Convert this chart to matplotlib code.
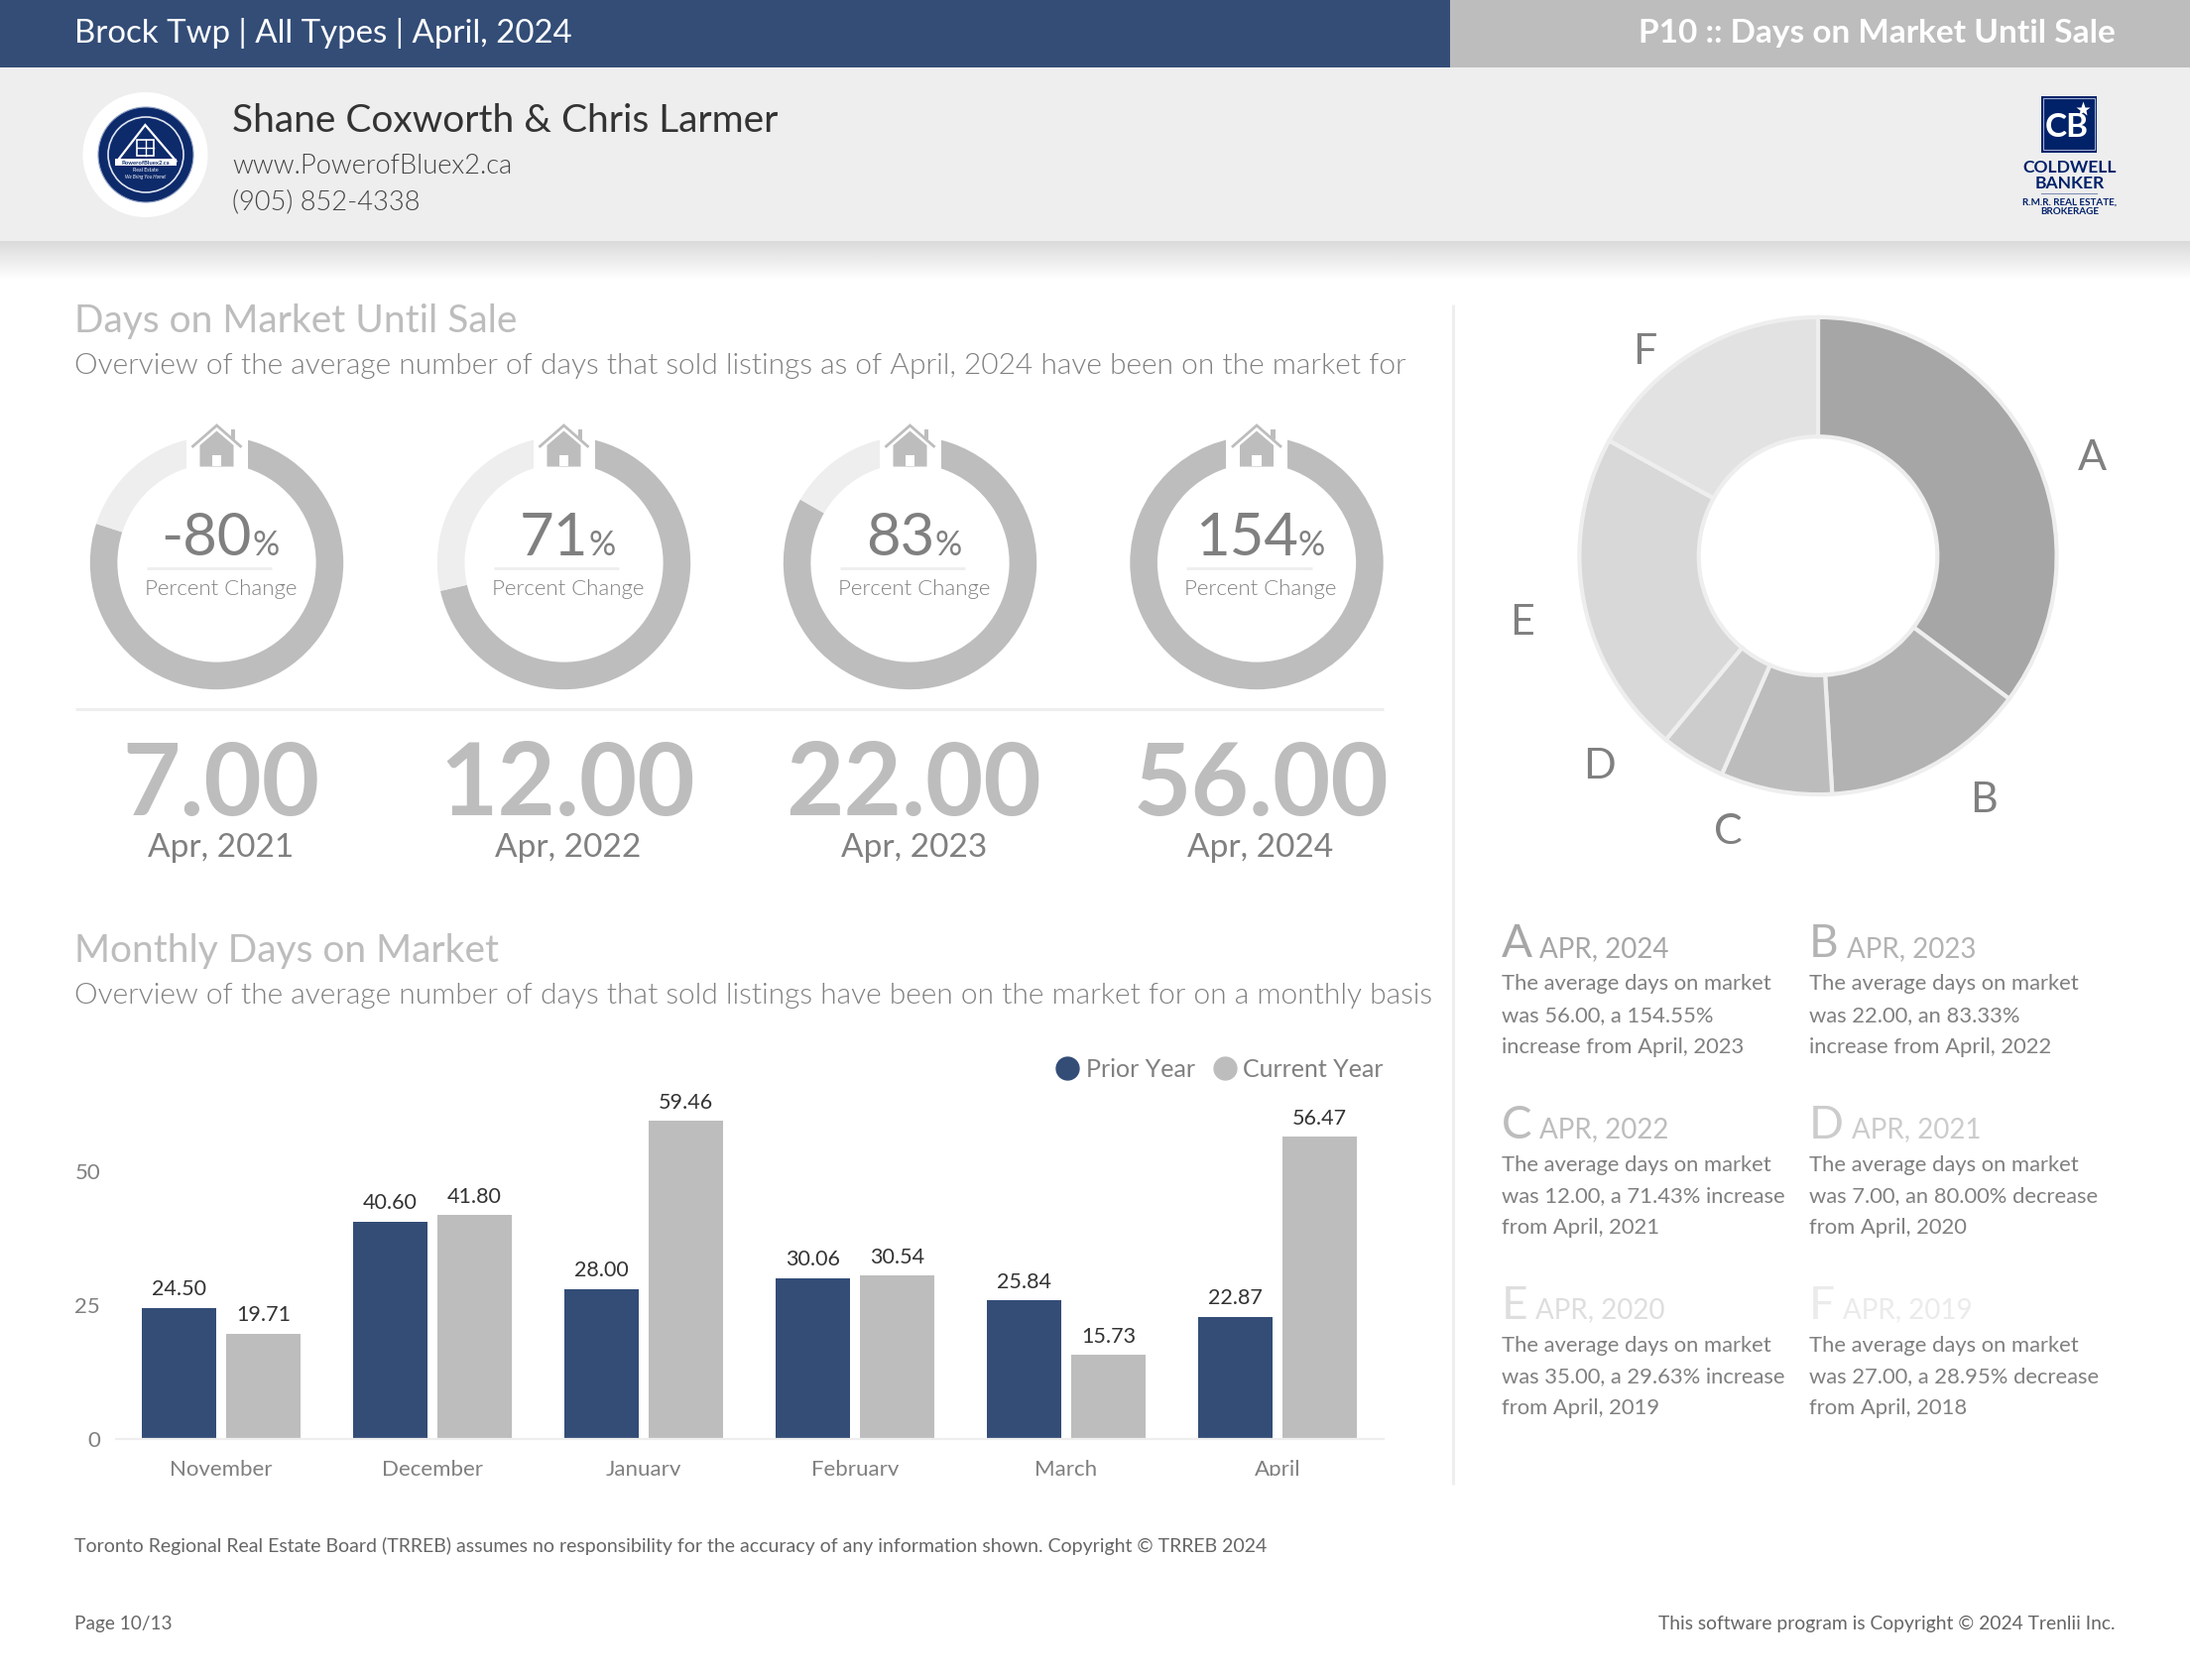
import numpy as np
import matplotlib
matplotlib.use("Agg")
import matplotlib.pyplot as plt
from matplotlib.patches import Rectangle, Circle, Polygon
from matplotlib.lines import Line2D
from matplotlib.transforms import Bbox

plt.rcParams['font.family'] = ['Lato', 'DejaVu Sans']

# ---- data ----
header_left = "Brock Twp | All Types | April, 2024"
header_right = "P10 :: Days on Market Until Sale"
gauge_labels = ["-80", "71", "83", "154"]
gauge_pct = [80.00, 71.43, 83.33, 154.55]
year_values = ["7.00", "12.00", "22.00", "56.00"]
year_labels = ["Apr, 2021", "Apr, 2022", "Apr, 2023", "Apr, 2024"]
months = ["November", "December", "January", "February", "March", "April"]
prior_year = [24.50, 40.60, 28.00, 30.06, 25.84, 22.87]
current_year = [19.71, 41.80, 59.46, 30.54, 15.73, 56.47]
pie_letters = ["A", "B", "C", "D", "E", "F"]
pie_values = [56.00, 22.00, 12.00, 7.00, 35.00, 27.00]
pie_colors = ["#a6a6a6", "#b2b2b2", "#bcbcbc", "#cccccc", "#d8d8d8", "#e2e2e2"]
letter_colors = ["#a6a6a6", "#b3b3b3", "#bdbdbd", "#cccccc", "#dedede", "#ebebeb"]
note_years = ["APR, 2024", "APR, 2023", "APR, 2022", "APR, 2021", "APR, 2020", "APR, 2019"]
note_lines = [
    ["The average days on market", "was 56.00, a 154.55%", "increase from April, 2023"],
    ["The average days on market", "was 22.00, an 83.33%", "increase from April, 2022"],
    ["The average days on market", "was 12.00, a 71.43% increase", "from April, 2021"],
    ["The average days on market", "was 7.00, an 80.00% decrease", "from April, 2020"],
    ["The average days on market", "was 35.00, a 29.63% increase", "from April, 2019"],
    ["The average days on market", "was 27.00, a 28.95% decrease", "from April, 2018"],
]

NAVY = "#334d77"
GREY = "#bdbdbd"
LIGHT = "#eeeeee"
TXT = "#808080"
W, H = 2208, 1694
LW = 300

fig = plt.figure(figsize=(W / 100, H / 100), dpi=100, facecolor="white")
renderer = fig.canvas.get_renderer()


def axes_px(x0, y0, x1, y1, **kw):
    return fig.add_axes([x0 / W, 1 - y1 / H, (x1 - x0) / W, (y1 - y0) / H], **kw)


# background layer
bg = axes_px(0, 0, W, H, zorder=0)
bg.set_xlim(0, W)
bg.set_ylim(H, 0)
bg.axis("off")
bg.add_patch(Rectangle((0, 0), 1462, 68.5, fc=NAVY, ec="none"))
bg.add_patch(Rectangle((1462, 0), W - 1462, 68.5, fc=GREY, ec="none"))
bg.add_patch(Rectangle((0, 68.5), W, 174.5, fc=LIGHT, ec="none"))
grad = np.linspace(0.82, 1.0, 40).reshape(-1, 1) ** 0.8
bg.imshow(grad, extent=(0, W, 282, 243), cmap="gray", vmin=0, vmax=1, aspect="auto", zorder=1)
bg.set_xlim(0, W)
bg.set_ylim(H, 0)

# gauges
gauge_x = [218.5, 568.5, 917.5, 1267]
gauge_y = 567.5
R = 127.7
for gx, p in zip(gauge_x, gauge_pct):
    a = axes_px(gx - R, gauge_y - R, gx + R, gauge_y + R, zorder=1)
    frac = min(p, 100.0)
    a.pie([frac, 100.0 - frac], colors=[GREY, LIGHT], startangle=90, counterclock=False,
          radius=1.0, wedgeprops=dict(width=0.216, linewidth=0))
    a.set_xlim(-1, 1)
    a.set_ylim(-1, 1)

# donut
PR = 241
pcx, pcy = 1833, 560.5
pa = axes_px(pcx - PR - 2, pcy - PR - 2, pcx + PR + 2, pcy + PR + 2, zorder=1)
pa.pie(pie_values, colors=pie_colors, startangle=90, counterclock=False, radius=1.0,
       wedgeprops=dict(width=0.5, edgecolor=LIGHT, linewidth=3))
pa.set_xlim(-1.01, 1.01)
pa.set_ylim(-1.01, 1.01)

# bar chart
bx = axes_px(116.5, 1451 - 5.4 * 70, 1394.5, 1451, zorder=1)
pos = np.arange(len(months))
bw = 0.355
bars_p = bx.bar(pos - 0.2, prior_year, bw, color=NAVY, label="Prior Year")
bars_c = bx.bar(pos + 0.2, current_year, bw, color=GREY, label="Current Year")
bx.set_xlim(-0.5, 5.5)
bx.set_ylim(0, 70)
bx.patch.set_alpha(0)
for s in ("top", "right", "left"):
    bx.spines[s].set_visible(False)
bx.spines["bottom"].set_color(LIGHT)
bx.spines["bottom"].set_linewidth(1.6)
bx.set_yticks([0, 25, 50])
bx.set_xticks(pos)
bx.set_xticklabels(months)
bx.tick_params(axis="both", length=0, labelcolor=TXT, labelsize=16)
bx.tick_params(axis="x", pad=15)
bx.tick_params(axis="y", pad=11)
clip = Bbox([[0, H - 1488], [W, H]])
for lb in bx.get_xticklabels():
    lb.set_clip_box(clip)
    lb.set_clip_on(True)
for bars, vals in ((bars_p, prior_year), (bars_c, current_year)):
    bx.bar_label(bars, labels=[f"{v:.2f}" for v in vals], padding=6, color="#333333", fontsize=15.5)
handles = [Line2D([], [], marker="o", ls="none", ms=16.5, mfc=NAVY, mec=NAVY),
           Line2D([], [], marker="o", ls="none", ms=16.5, mfc=GREY, mec=GREY)]
fig.legend(handles, ["Prior Year", "Current Year"], ncol=2, frameon=False, fontsize=18,
           labelcolor=TXT, loc="center right", bbox_to_anchor=(1395 / W, 1 - 1078 / H),
           handletextpad=0.15, columnspacing=0.6, borderpad=0, borderaxespad=0, handlelength=1.2)

# overlay layer
ov = axes_px(0, 0, W, H, zorder=5)
ov.set_xlim(0, W)
ov.set_ylim(H, 0)
ov.axis("off")
ov.patch.set_alpha(0)


def T(x, y, s, size, color=TXT, weight="normal", ha="left", va="baseline", **kw):
    return ov.text(x, y, s, fontsize=size, color=color, fontweight=weight, ha=ha, va=va, **kw)


def width(t):
    return t.get_window_extent(renderer).width


# header text
T(75, 43, header_left, 23.8, "white")
T(2133, 43, header_right, 24, "white", weight="bold", ha="right")
T(234, 133, "Shane Coxworth & Chris Larmer", 28, "#333333")
T(234, 175, "www.PowerofBluex2.ca", 19.6, "#444444", weight=LW)
T(234, 211.5, "(905) 852-4338", 19.6, "#444444", weight=LW)

# round logo
ov.add_patch(Circle((146.5, 156), 63, fc="white", ec="none"))
ov.add_patch(Circle((147, 156), 48, fc="#0d2a6b", ec="#8fa0c4", lw=0.8))
ov.add_patch(Circle((147, 156), 38, fc="none", ec="#dfe5f0", lw=1.2))
ov.add_patch(Polygon([[146.4, 126], [117.7, 163], [178, 163]], closed=True, fc="none", ec="white", lw=1.6))
ov.add_patch(Rectangle((138, 141), 17, 16, fc="none", ec="white", lw=1.2))
ov.plot([146.5, 146.5], [141, 157], color="white", lw=1)
ov.plot([138, 155], [149, 149], color="white", lw=1)
ov.add_patch(Rectangle((116, 160), 62, 7.5, fc="white", ec="none"))
T(147, 166, "PowerofBluex2.ca", 4.2, "#0d2a6b", weight="bold", ha="center")
T(147, 173, "Real Estate", 3.8, "white", ha="center")
T(147, 180, "We Bring You Home!", 3.4, "white", ha="center", style="italic")

# Coldwell Banker logo
ov.add_patch(Rectangle((2057.7, 96.7), 56.6, 57.3, fc="#012169", ec="none"))
ov.add_patch(Rectangle((2060.2, 99.2), 51.6, 52.3, fc="none", ec="#9fb0d0", lw=0.8))
T(2084, 128, "CB", 24, "white", weight="bold", ha="center", va="center")
ov.plot([2100], [110], marker="*", ms=11, color="white", mec="none")
T(2086.7, 174.5, "COLDWELL", 12.6, "#012169", weight="bold", ha="center")
T(2086.7, 190.5, "BANKER", 12.6, "#012169", weight="bold", ha="center")
ov.plot([2058, 2114], [195, 195], color="#7f8fb5", lw=0.8)
T(2086.7, 207, "R.M.R. REAL ESTATE,", 7.1, "#012169", weight="bold", ha="center")
T(2086.7, 215.5, "BROKERAGE", 7.1, "#012169", weight="bold", ha="center")

# section titles
T(75, 335.5, "Days on Market Until Sale", 28, GREY)
T(75, 377.5, "Overview of the average number of days that sold listings as of April, 2024 have been on the market for",
  21.5, TXT, weight=LW)
T(75, 970, "Monthly Days on Market", 28, GREY)
T(75, 1012, "Overview of the average number of days that sold listings have been on the market for on a monthly basis",
  21.5, TXT, weight=LW)

# dividers
ov.plot([75.5, 1395], [715, 715], color=LIGHT, lw=2.2, solid_capstyle="butt")
ov.plot([1464.5, 1464.5], [307, 1497], color=LIGHT, lw=2.2, solid_capstyle="butt")

# gauge overlays
for gx, lab, val, yl in zip(gauge_x, gauge_labels, year_values, year_labels):
    ov.add_patch(Rectangle((gx - 31, 428), 62, 45, fc="white", ec="none"))
    # house icon
    ov.plot([gx - 24, gx, gx + 24], [450, 429, 450], color=GREY, lw=2, solid_joinstyle="miter")
    ov.add_patch(Polygon([[gx - 17, 470.5], [gx - 17, 449], [gx, 434.5], [gx + 17, 449], [gx + 17, 470.5]],
                         closed=True, fc=GREY, ec="none"))
    ov.add_patch(Rectangle((gx + 14, 433), 4.5, 10, fc=GREY, ec="none"))
    ov.add_patch(Rectangle((gx - 5, 459), 9.5, 11.5, fc="white", ec="none"))
    # percent
    t1 = T(0, 559.5, lab, 43, TXT)
    t2 = T(0, 559.5, "%", 24.5, TXT)
    w1, w2 = width(t1), width(t2)
    x0 = gx + 3.5 - (w1 + w2) / 2
    t1.set_x(x0)
    t2.set_x(x0 + w1)
    ov.plot([gx - 71, gx + 55.5], [573, 573], color=LIGHT, lw=2, solid_capstyle="butt")
    T(gx + 4, 600, "Percent Change", 16, TXT, weight=LW, ha="center")
    T(gx + 4, 822, val, 72.5, GREY, weight="bold", ha="center")
    T(gx + 4, 864.5, yl, 24, TXT, ha="center")

# pie labels
pie_label_xy = [(2109, 462), (2000, 807), (1742, 839), (1612, 773), (1535, 628), (1658, 355)]
for s, (lx, ly) in zip(pie_letters, pie_label_xy):
    T(lx, ly, s, 31, "#808080", ha="center", va="center")

# notes
note_x = [1513.5, 1824]
note_base = [965, 1147.5, 1329.5]
for i in range(6):
    nx = note_x[i % 2]
    by = note_base[i // 2]
    t1 = T(nx, by, pie_letters[i], 33, letter_colors[i])
    t2 = T(nx, by, note_years[i], 20, letter_colors[i])
    t2.set_x(nx + width(t1) + 8)
    for j, line in enumerate(note_lines[i]):
        T(nx, by + 33.5 + 31.5 * j, line, 15.8, TXT)

# footer
T(75, 1565, "Toronto Regional Real Estate Board (TRREB) assumes no responsibility for the accuracy of any information shown. Copyright © TRREB 2024",
  14.02, "#666666")
T(75, 1643.5, "Page 10/13", 13.7, "#666666")
T(2133, 1643.5, "This software program is Copyright © 2024 Trenlii Inc.", 13.9, "#666666", ha="right")

fig.savefig("out.png", dpi=100)
